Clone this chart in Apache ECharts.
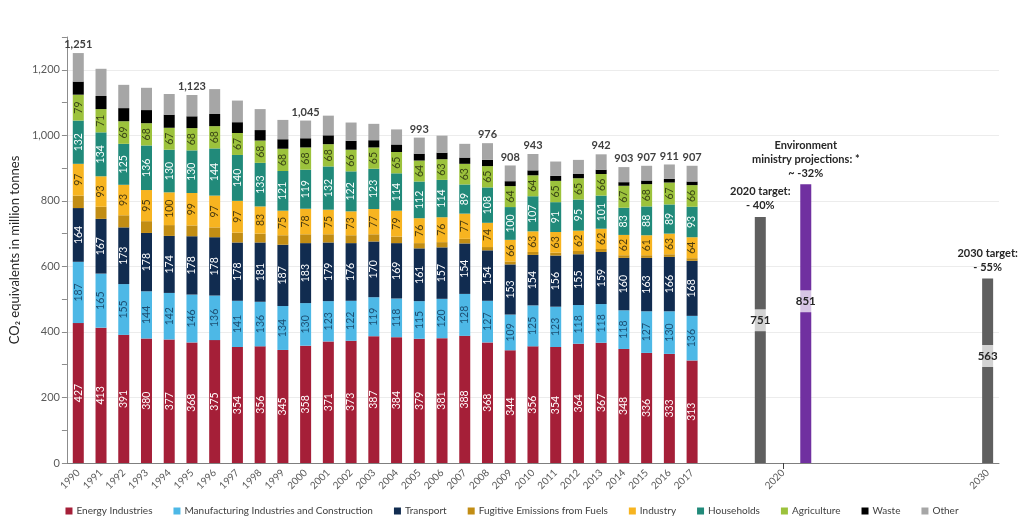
<!DOCTYPE html>
<html>
<head>
<meta charset="utf-8">
<script src="https://cdn.jsdelivr.net/npm/echarts@6/dist/echarts.min.js"></script>
<style>
html,body{margin:0;padding:0;background:#fff;}
#chart{width:1024px;height:523px;}
</style>
</head>
<body>
<div id="chart"></div>
<script>
const years = ['1990','1991','1992','1993','1994','1995','1996','1997','1998','1999','2000','2001','2002','2003','2004','2005','2006','2007','2008','2009','2010','2011','2012','2013','2014','2015','2016','2017'];
const energy = [427,413,391,380,377,368,375,354,356,345,358,371,373,387,384,379,381,388,368,344,356,354,364,367,348,336,333,313];
const manufacturing = [187,165,155,144,142,146,136,141,136,134,130,123,122,119,118,115,120,128,127,109,125,123,118,118,118,127,130,136];
const transport = [164,167,173,178,174,178,178,178,181,187,183,179,176,170,169,161,157,154,154,153,154,156,155,159,160,163,166,168];
const fugitive = [38,37,37,36,33,33,30,30,27,29,27,25,24,22,20,16,16,14,10,9,9,9,10,9,8,8,8,8];
const industry = [97,93,93,95,100,99,97,97,83,75,78,75,73,77,79,76,76,77,74,66,63,63,62,62,62,61,63,64];
const households = [132,134,125,136,130,130,144,140,133,121,119,132,122,123,114,112,114,89,108,100,107,91,95,101,83,88,89,93];
const agriculture = [79,71,69,68,67,68,68,67,68,68,68,68,66,65,65,64,63,63,65,64,64,65,65,66,67,68,67,66];
const waste = [40,40,40,40,40,36,37,33,32,29,28,27,27,22,23,21,20,19,19,15,15,15,13,13,11,11,11,11];
const other = [87,83,71,68,63,65,76,66,64,59,54,60,56,50,46,49,52,42,51,48,50,44,43,47,46,45,44,48];
const totalLabelYears = ['1990','1995','2000','2005','2008','2009','2010','2013','2014','2015','2016','2017'];

// extra category slots after the yearly bars
const extraCategories = ['gap1','gap2','target2020','2020','projection2020','gap3','gap4','gap5','gap6','gap7','gap8','gap9','2030'];
const categories = years.concat(extraCategories);
const targetData = [['target2020', 751], ['2030', 563]];
const projectionData = [['projection2020', 851]];
const noteNames = ['target2020', 'projection2020', '2030'];
const noteTexts = ['2020 target:\n- 40%', 'Environment\nministry projections: *\n~ -32%', '2030 target:\n- 55%'];

const sectors = [
  {name:'Energy Industries', data:energy, color:'#a51f38', label:'#ffffff'},
  {name:'Manufacturing Industries and Construction', data:manufacturing, color:'#4db8e6', label:'#1d4f73'},
  {name:'Transport', data:transport, color:'#112c50', label:'#ffffff'},
  {name:'Fugitive Emissions from Fuels', data:fugitive, color:'#c28d14', label:null},
  {name:'Industry', data:industry, color:'#f7b420', label:'#4a3b10'},
  {name:'Households', data:households, color:'#218a7a', label:'#ffffff'},
  {name:'Agriculture', data:agriculture, color:'#9cc23c', label:'#3a4515'},
  {name:'Waste', data:waste, color:'#000000', label:null},
  {name:'Other', data:other, color:'#a6a6a6', label:null}
];

const FONT = 'Lato';
const fmt = v => Number(v).toLocaleString('en-US');

function yearTotal(i){
  return sectors.reduce((s, sec) => s + sec.data[i], 0);
}

const series = sectors.map(sec => {
  const s = {
    name: sec.name, type:'bar', stack:'a', barWidth:11,
    data: sec.data,
    itemStyle:{color:sec.color},
    emphasis:{disabled:true},
    label:{show:false}
  };
  if (sec.label) {
    s.label = {show:true, position:'inside', rotate:90, color:sec.label, fontSize:10.5, fontFamily:FONT};
  }
  if (sec.name === 'Other') {
    s.label = {
      show:true, position:'top', distance:3, color:'#404040', fontWeight:'bold', fontSize:11, fontFamily:FONT,
      formatter: p => totalLabelYears.indexOf(years[p.dataIndex]) >= 0 ? fmt(yearTotal(p.dataIndex)) : ''
    };
  }
  return s;
});

const valueLabel = {
  show:true, position:['50%','42%'], align:'center', verticalAlign:'middle',
  color:'#262626', fontSize:11.5, fontWeight:'bold', fontFamily:FONT,
  backgroundColor:'rgba(255,255,255,0.72)', padding:[5,1]
};

series.push({
  name:'Target', type:'bar', stack:'a', barWidth:11, data:targetData,
  itemStyle:{color:'#5f5f5f'}, emphasis:{disabled:true}, label:valueLabel
});
series.push({
  name:'Projection', type:'bar', stack:'a', barWidth:11, data:projectionData,
  itemStyle:{color:'#7030a0'}, emphasis:{disabled:true}, label:valueLabel
});
series.push({
  name:'Notes', type:'bar', stack:'a', barWidth:11,
  data: noteNames.map(n => [n, 0]),
  itemStyle:{color:'rgba(0,0,0,0)'}, emphasis:{disabled:true},
  label:{show:true, position:'top', distance:4, color:'#262626', fontWeight:'bold', fontSize:11, lineHeight:14, fontFamily:FONT,
    formatter: p => noteTexts[p.dataIndex]}
});

const chart = echarts.init(document.getElementById('chart'), null, {renderer:'canvas'});
chart.setOption({
  animation:false,
  backgroundColor:'#ffffff',
  textStyle:{fontFamily:FONT},
  grid:{left:65, right:25, top:37, bottom:60},
  legend:{
    data: sectors.map(s => s.name),
    bottom:7, left:'center', width:1024, padding:0, icon:'rect', itemWidth:7, itemHeight:7, itemGap:21,
    textStyle:{fontSize:10, color:'#404040', fontFamily:FONT, padding:[0,0,0,-1]}
  },
  xAxis:{
    type:'category', data:categories,
    axisLine:{lineStyle:{color:'#7f7f7f'}},
    axisTick:{show:true, alignWithLabel:true, length:6, inside:false, lineStyle:{color:'#404040'},
      interval:(idx, val) => val === '2020'},
    axisLabel:{interval:0, rotate:45, fontSize:10, color:'#595959', margin:8, fontFamily:FONT,
      formatter: v => /^\d{4}$/.test(v) ? v : ''}
  },
  yAxis:{
    type:'value', min:0, max:1300, interval:200,
    name:'CO\u2082 equivalents in million tonnes', nameLocation:'middle', nameGap:44,
    nameTextStyle:{fontSize:13, color:'#262626', fontFamily:FONT},
    axisLine:{show:true, lineStyle:{color:'#8c8c8c'}},
    axisTick:{show:true, length:5, lineStyle:{color:'#8c8c8c'}},
    minorTick:{show:true, splitNumber:2, length:5, lineStyle:{color:'#8c8c8c'}},
    axisLabel:{fontSize:11, color:'#595959', margin:7, fontFamily:FONT, showMaxLabel:false, formatter:v => fmt(v)},
    splitLine:{show:true, showMaxLine:false, lineStyle:{color:'#ececec'}}
  },
  series: series
});
</script>
</body>
</html>
